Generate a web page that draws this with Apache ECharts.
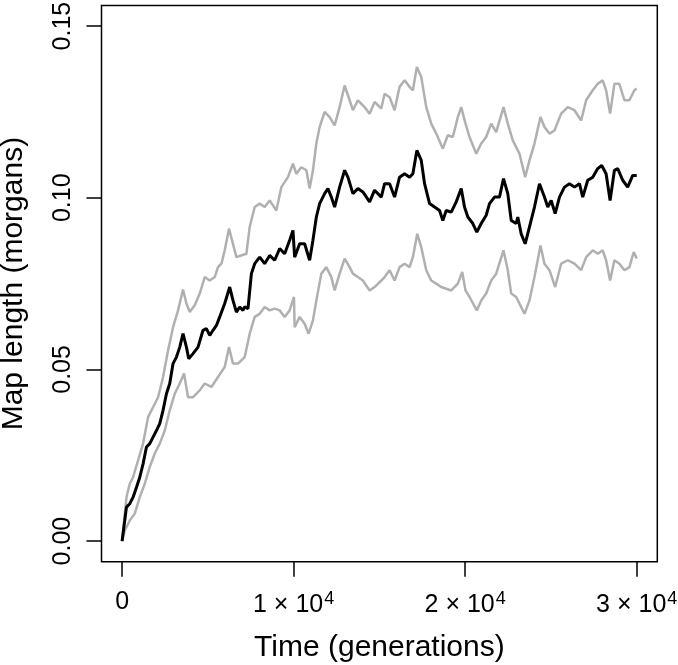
<!DOCTYPE html>
<html>
<head>
<meta charset="utf-8">
<script src="https://cdn.jsdelivr.net/npm/echarts@6/dist/echarts.min.js"></script>
<style>
  html, body { margin: 0; padding: 0; background: #fff; }
  #chart { width: 678px; height: 665px; }
</style>
</head>
<body>
<div id="chart"></div>
<script>
// [generation, map length in morgans]
var meanLine = [
  [0, 0], [256, 0.0099], [449, 0.0109], [641, 0.0128], [839, 0.0157], [1031, 0.0186],
  [1223, 0.0225], [1421, 0.0274], [1614, 0.0284], [1806, 0.0303], [2004, 0.0322],
  [2196, 0.0342], [2388, 0.0381], [2586, 0.0429], [2778, 0.0459], [2971, 0.0517],
  [3169, 0.0536], [3361, 0.0565], [3553, 0.0604], [3751, 0.0565], [3885, 0.0531],
  [4136, 0.0546], [4427, 0.0565], [4718, 0.0614], [4916, 0.0619], [5109, 0.0599],
  [5301, 0.0614], [5499, 0.0628], [5691, 0.0653], [5982, 0.0692], [6274, 0.0740],
  [6466, 0.0701], [6664, 0.0667], [6856, 0.0682], [7048, 0.0672], [7147, 0.0682],
  [7340, 0.0677], [7538, 0.0779], [7730, 0.0808], [8021, 0.0827], [8312, 0.0808],
  [8604, 0.0832], [8895, 0.0818], [9186, 0.0852], [9477, 0.0837], [9768, 0.0876],
  [9961, 0.0905], [10060, 0.0827], [10351, 0.0866], [10642, 0.0866], [10933, 0.0818],
  [11126, 0.0876], [11324, 0.0944], [11516, 0.0983], [11807, 0.1012], [12000, 0.1027],
  [12198, 0.1002], [12390, 0.0973], [12681, 0.1031], [12973, 0.1080], [13165, 0.1060],
  [13456, 0.1012], [13747, 0.1027], [14038, 0.1017], [14429, 0.0988], [14720, 0.1022],
  [15110, 0.1002], [15302, 0.1041], [15594, 0.1041], [15885, 0.1002], [16176, 0.1060],
  [16467, 0.1070], [16759, 0.1060], [16951, 0.1070], [17184, 0.1138], [17440, 0.1109],
  [17633, 0.1041], [17924, 0.0983], [18215, 0.0973], [18506, 0.0963], [18698, 0.0934],
  [18896, 0.0963], [19187, 0.0958], [19479, 0.0988], [19770, 0.1027], [19962, 0.0973],
  [20155, 0.0944], [20446, 0.0925], [20679, 0.0900], [20935, 0.0925], [21226, 0.0949],
  [21419, 0.0983], [21710, 0.1002], [22001, 0.1002], [22234, 0.1056], [22485, 0.1012],
  [22683, 0.0934], [22974, 0.0925], [23067, 0.0944], [23265, 0.0895], [23498, 0.0866],
  [23749, 0.0915], [24040, 0.0973], [24331, 0.1041], [24622, 0.1002], [24815, 0.0973],
  [25013, 0.0992], [25246, 0.0954], [25496, 0.1002], [25787, 0.1031], [26079, 0.1041],
  [26370, 0.1031], [26661, 0.1041], [26853, 0.1002], [27145, 0.1051], [27436, 0.1060],
  [27727, 0.1085], [27960, 0.1094], [28216, 0.1070], [28449, 0.0992], [28700, 0.1080],
  [28892, 0.1085], [29184, 0.1051], [29475, 0.1031], [29766, 0.1065], [30000, 0.1065]
];

var upperLine = [
  [0, 0], [256, 0.0128], [449, 0.0167], [641, 0.0186], [932, 0.0235], [1223, 0.0284],
  [1515, 0.0361], [1806, 0.0390], [2097, 0.0419], [2388, 0.0478], [2680, 0.0555],
  [2971, 0.0623], [3262, 0.0672], [3553, 0.0733], [3751, 0.0692], [3944, 0.0667],
  [4235, 0.0687], [4526, 0.0721], [4817, 0.0769], [5109, 0.0759], [5400, 0.0769],
  [5592, 0.0798], [5790, 0.0808], [5982, 0.0847], [6233, 0.0910], [6664, 0.0827],
  [7246, 0.0837], [7439, 0.0915], [7730, 0.0973], [8021, 0.0983], [8312, 0.0973],
  [8604, 0.0992], [8994, 0.0963], [9285, 0.1031], [9670, 0.1060], [9961, 0.1099],
  [10159, 0.1070], [10450, 0.1089], [10741, 0.1080], [10934, 0.1027], [11126, 0.1080],
  [11324, 0.1158], [11516, 0.1206], [11807, 0.1250], [12099, 0.1235], [12390, 0.1211],
  [12681, 0.1264], [12973, 0.1327], [13264, 0.1284], [13456, 0.1255], [13747, 0.1284],
  [14137, 0.1264], [14429, 0.1245], [14720, 0.1279], [15110, 0.1260], [15302, 0.1303],
  [15594, 0.1293], [15885, 0.1255], [16176, 0.1323], [16467, 0.1342], [16759, 0.1323],
  [16951, 0.1313], [17184, 0.1381], [17440, 0.1352], [17731, 0.1264], [18022, 0.1216],
  [18314, 0.1187], [18698, 0.1143], [18990, 0.1182], [19281, 0.1177], [19572, 0.1235],
  [19770, 0.1264], [20020, 0.1216], [20253, 0.1177], [20644, 0.1128], [20935, 0.1158],
  [21226, 0.1177], [21518, 0.1216], [21809, 0.1191], [22234, 0.1264], [22485, 0.1216],
  [22776, 0.1167], [23067, 0.1138], [23166, 0.1128], [23498, 0.1060], [23749, 0.1109],
  [24040, 0.1158], [24390, 0.1235], [24622, 0.1206], [24913, 0.1187], [25205, 0.1196],
  [25595, 0.1245], [25980, 0.1264], [26370, 0.1255], [26760, 0.1225], [27052, 0.1284],
  [27436, 0.1313], [27727, 0.1332], [28018, 0.1342], [28216, 0.1313], [28449, 0.1245],
  [28700, 0.1332], [28991, 0.1332], [29282, 0.1284], [29573, 0.1284], [29864, 0.1313],
  [30000, 0.1318]
];

var lowerLine = [
  [0, 0], [157, 0.0031], [449, 0.0060], [740, 0.0080], [1031, 0.0128], [1322, 0.0167],
  [1614, 0.0216], [1905, 0.0255], [2196, 0.0284], [2487, 0.0322], [2778, 0.0381],
  [3070, 0.0429], [3361, 0.0459], [3612, 0.0488], [3845, 0.0419], [4136, 0.0419],
  [4526, 0.0439], [4817, 0.0459], [5208, 0.0449], [5592, 0.0478], [5982, 0.0507],
  [6233, 0.0565], [6466, 0.0517], [6757, 0.0517], [7147, 0.0536], [7439, 0.0604],
  [7730, 0.0653], [8021, 0.0662], [8312, 0.0682], [8604, 0.0672], [8895, 0.0677],
  [9186, 0.0672], [9477, 0.0653], [9768, 0.0672], [10019, 0.0711], [10060, 0.0623],
  [10351, 0.0653], [10642, 0.0633], [10875, 0.0604], [11126, 0.0643], [11324, 0.0701],
  [11615, 0.0779], [11906, 0.0798], [12198, 0.0769], [12390, 0.0730], [12681, 0.0779],
  [12973, 0.0823], [13264, 0.0798], [13456, 0.0779], [13747, 0.0769], [14038, 0.0759],
  [14429, 0.0730], [14720, 0.0740], [15110, 0.0759], [15302, 0.0769], [15594, 0.0789],
  [15885, 0.0759], [16176, 0.0798], [16467, 0.0808], [16759, 0.0798], [16951, 0.0827],
  [17207, 0.0895], [17440, 0.0856], [17731, 0.0789], [18022, 0.0759], [18314, 0.0750],
  [18605, 0.0740], [18896, 0.0735], [19187, 0.0730], [19572, 0.0750], [19828, 0.0784],
  [20020, 0.0730], [20253, 0.0711], [20679, 0.0672], [20935, 0.0701], [21226, 0.0721],
  [21518, 0.0759], [21809, 0.0779], [22234, 0.0847], [22485, 0.0789], [22683, 0.0721],
  [22974, 0.0711], [23265, 0.0682], [23457, 0.0662], [23749, 0.0701], [24040, 0.0769],
  [24390, 0.0861], [24622, 0.0808], [24913, 0.0789], [25246, 0.0740], [25595, 0.0808],
  [25980, 0.0818], [26370, 0.0808], [26760, 0.0789], [27052, 0.0827], [27436, 0.0847],
  [27727, 0.0837], [28018, 0.0847], [28216, 0.0818], [28449, 0.0759], [28700, 0.0818],
  [28991, 0.0808], [29282, 0.0789], [29573, 0.0798], [29825, 0.0842], [30000, 0.0823]
];

var xTicks = [0, 10000, 20000, 30000];
var xTickLabels = ['0', '1 \u00d7 10^4', '2 \u00d7 10^4', '3 \u00d7 10^4'];
var yTicks = [0, 0.05, 0.10, 0.15];
var yTickLabels = ['0.00', '0.05', '0.10', '0.15'];

var FONT = '"Liberation Sans", Arial, sans-serif';

var chart = echarts.init(document.getElementById('chart'));

var option = {
  animation: false,
  backgroundColor: '#fff',
  grid: {
    left: 101.5,
    right: 20.7,
    top: 5.5,
    bottom: 103.3,
    outerBoundsMode: 'none',
    containLabel: false,
    show: true,
    borderColor: '#000',
    borderWidth: 1.5,
    backgroundColor: 'transparent'
  },
  xAxis: {
    type: 'value',
    min: -1200,
    max: 31200,
    name: 'Time (generations)',
    nameLocation: 'middle',
    nameGap: 71,
    nameTextStyle: { fontFamily: FONT, fontSize: 30, color: '#000' },
    axisLine: { show: false, onZero: false },
    splitLine: { show: false },
    axisTick: {
      show: true,
      inside: false,
      length: 15,
      customValues: xTicks,
      lineStyle: { color: '#000', width: 1.5 }
    },
    axisLabel: {
      margin: 28,
      customValues: xTicks,
      fontFamily: FONT,
      fontSize: 25,
      color: '#000',
      formatter: function (v) {
        var lab = xTickLabels[xTicks.indexOf(v)];
        return lab.replace(/^(.*)\^(\d+)$/, '{a|$1}{s|$2}').replace(/^([^{].*)$/, '{a|$1}');
      },
      rich: {
        a: { fontFamily: FONT, fontSize: 25, color: '#000' },
        s: { fontFamily: FONT, fontSize: 18, color: '#000', padding: [0, 0, 12, 1] }
      }
    }
  },
  yAxis: {
    type: 'value',
    min: -0.006,
    max: 0.156,
    name: 'Map length (morgans)',
    nameLocation: 'middle',
    nameGap: 73,
    nameTextStyle: { fontFamily: FONT, fontSize: 30, color: '#000' },
    axisLine: { show: false, onZero: false },
    splitLine: { show: false },
    axisTick: {
      show: true,
      inside: false,
      length: 15,
      customValues: yTicks,
      lineStyle: { color: '#000', width: 1.5 }
    },
    axisLabel: {
      rotate: 90,
      margin: 26,
      customValues: yTicks,
      fontFamily: FONT,
      fontSize: 25,
      color: '#000',
      formatter: function (v) {
        var i = yTicks.findIndex(function (t) { return Math.abs(t - v) < 1e-9; });
        return i >= 0 ? yTickLabels[i] : '';
      }
    }
  },
  series: [
    {
      name: 'upper',
      type: 'line',
      data: upperLine,
      showSymbol: false,
      lineStyle: { color: '#b0b0b0', width: 2.5 },
      z: 2
    },
    {
      name: 'lower',
      type: 'line',
      data: lowerLine,
      showSymbol: false,
      lineStyle: { color: '#b0b0b0', width: 2.5 },
      z: 2
    },
    {
      name: 'mean',
      type: 'line',
      data: meanLine,
      showSymbol: false,
      lineStyle: { color: '#000', width: 3 },
      z: 3
    }
  ]
};

chart.setOption(option);
window.addEventListener('resize', function () { chart.resize(); });
</script>
</body>
</html>
